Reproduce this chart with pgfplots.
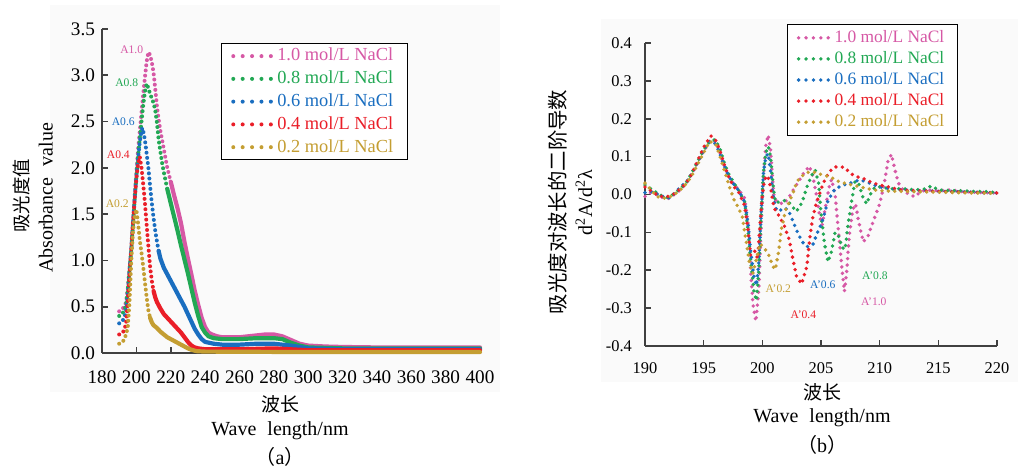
\documentclass[border=0pt]{standalone}
\usepackage{fontspec}
\setmainfont{Liberation Serif}
\newfontfamily\cjk{Noto Sans CJK SC}
\usepackage{pgfplots}
\pgfplotsset{compat=1.18}
\definecolor{cPink}{RGB}{214,88,165}
\definecolor{cGreen}{RGB}{34,168,84}
\definecolor{cBlue}{RGB}{26,110,192}
\definecolor{cRed}{RGB}{234,30,40}
\definecolor{cGold}{RGB}{196,158,50}
\pgfplotsset{
  dotL/.style={line width=2pt, line cap=round, dash pattern=on 0pt off 2.6pt},
  solL/.style={line width=2.1pt, line cap=round, line join=round, forget plot},
  dotR/.style={line width=1.9pt, line cap=round, dash pattern=on 0pt off 3.2pt},
}
\begin{document}
\begin{tikzpicture}[x=1pt,y=1pt]
\path[use as bounding box] (0,0) rectangle (509,234.5);
\fill[black!2] (25,38.5) rectangle (250,232);
\fill[black!2] (300.5,43.5) rectangle (509,225);
% ---------------- left panel ----------------
\begin{axis}[
  at={(51pt,58pt)}, anchor=south west, scale only axis, width=189pt, height=162pt,
  xmin=180, xmax=400, ymin=0, ymax=3.5,
  axis lines=left, axis line style={-, black!75, line width=0.9pt},
  tick align=inside, major tick length=3pt, tick style={black!75, line width=0.8pt},
  xtick={180,200,...,400}, ytick={0,0.5,1,1.5,2,2.5,3,3.5},
  /pgf/number format/assume math mode=true,
  ticklabel style={font=\fontsize{9.6}{11}\selectfont},
  xticklabel style={yshift=-5.5pt},
  yticklabel style={/pgf/number format/.cd, fixed, fixed zerofill, precision=1},
  clip=false,
  legend style={at={(0.8095,0.957)}, anchor=north east, draw=black, line width=0.7pt,
    fill=white, font=\fontsize{9.2}{10}\selectfont, row sep=-0.5pt, inner xsep=5pt, inner ysep=0.3pt},
  legend cell align=left,
  legend image code/.code={\draw[#1, dash pattern=on 0pt off 4.7pt] (0pt,0pt) -- (19pt,0pt);},
]
% 1.0
\addplot[cPink, dotL] coordinates {(190,0.45)(191,0.46)(192,0.48)(193,0.5)(194,0.55)(195,0.7)(196,0.9)(197,1.1)(198,1.4)(199,1.7)(200,1.95)(201,2.2)(202,2.4)(203,2.6)(204,2.8)(205,2.98)(206,3.15)(207,3.25)(208,3.22)(209,3.14)(210,3.03)(211,2.85)(212,2.66)(213,2.52)(214,2.4)(215,2.3)(216,2.2)(218,2.0)(220,1.85)};
\addlegendentry{\textcolor{cPink}{1.0 mol/L NaCl}}
\addplot[cPink, solL] coordinates {(220,1.85)(222,1.7)(224,1.56)(226,1.4)(228,1.2)(230,1.02)(232,0.85)(234,0.67)(236,0.52)(238,0.38)(240,0.28)(242,0.22)(244,0.2)(247,0.18)(250,0.17)(255,0.17)(260,0.17)(265,0.18)(270,0.19)(275,0.2)(280,0.2)(285,0.18)(290,0.14)(295,0.1)(300,0.08)(310,0.07)(320,0.065)(340,0.06)(360,0.06)(380,0.06)(400,0.06)};
% 0.8
\addplot[cGreen, dotL] coordinates {(190,0.4)(191,0.41)(192,0.43)(193,0.46)(194,0.52)(195,0.68)(196,0.9)(197,1.1)(198,1.38)(199,1.65)(200,1.9)(201,2.12)(202,2.32)(203,2.5)(204,2.68)(205,2.82)(206,2.91)(207,2.86)(208,2.8)(209,2.75)(210,2.7)(211,2.62)(212,2.48)(213,2.3)(214,2.17)(215,2.05)(216,1.95)(218,1.77)};
\addlegendentry{\textcolor{cGreen}{0.8 mol/L NaCl}}
\addplot[cGreen, solL] coordinates {(218,1.77)(220,1.62)(222,1.47)(224,1.32)(226,1.16)(228,1.01)(230,0.86)(232,0.7)(234,0.54)(236,0.4)(238,0.28)(240,0.22)(242,0.18)(245,0.16)(250,0.15)(260,0.15)(270,0.16)(280,0.16)(285,0.15)(290,0.11)(295,0.08)(300,0.06)(320,0.05)(360,0.05)(400,0.05)};
% 0.6
\addplot[cBlue, dotL] coordinates {(190,0.32)(191,0.33)(192,0.35)(193,0.38)(194,0.45)(195,0.62)(196,0.88)(197,1.12)(198,1.4)(199,1.66)(200,1.9)(201,2.1)(202,2.28)(203,2.4)(203.5,2.43)(204,2.4)(205,2.3)(206,2.15)(207,2.0)(208,1.8)(209,1.62)(210,1.46)(211,1.32)(212,1.2)(213,1.1)};
\addlegendentry{\textcolor{cBlue}{0.6 mol/L NaCl}}
\addplot[cBlue, solL] coordinates {(213,1.1)(214,1.02)(216,0.92)(218,0.85)(220,0.78)(222,0.71)(224,0.64)(226,0.57)(228,0.5)(230,0.42)(232,0.34)(234,0.26)(236,0.2)(238,0.15)(240,0.12)(245,0.1)(250,0.09)(260,0.09)(270,0.1)(280,0.1)(290,0.08)(300,0.05)(320,0.04)(400,0.04)};
% 0.4
\addplot[cRed, dotL] coordinates {(190,0.2)(191,0.21)(192,0.22)(193,0.25)(194,0.32)(195,0.55)(196,0.85)(197,1.12)(198,1.4)(199,1.65)(200,1.88)(201,2.05)(202,2.12)(203,2.0)(204,1.82)(205,1.62)(206,1.38)(207,1.15)(208,0.93)(209,0.78)(210,0.67)};
\addlegendentry{\textcolor{cRed}{0.4 mol/L NaCl}}
\addplot[cRed, solL] coordinates {(210,0.67)(211,0.6)(212,0.55)(214,0.48)(216,0.42)(218,0.38)(220,0.34)(222,0.3)(224,0.26)(226,0.22)(228,0.17)(230,0.12)(232,0.08)(234,0.06)(236,0.05)(240,0.04)(260,0.04)(280,0.05)(290,0.04)(300,0.03)(400,0.03)};
% 0.2
\addplot[cGold, dotL] coordinates {(190,0.1)(191,0.11)(192,0.12)(193,0.15)(194,0.2)(195,0.28)(196,0.55)(197,0.98)(198,1.3)(199,1.48)(200,1.55)(201,1.4)(202,1.22)(203,1.08)(204,0.93)(205,0.76)(206,0.6)(207,0.46)(208,0.38)};
\addlegendentry{\textcolor{cGold}{0.2 mol/L NaCl}}
\addplot[cGold, solL] coordinates {(208,0.38)(209,0.33)(210,0.3)(212,0.27)(214,0.23)(216,0.2)(218,0.17)(220,0.15)(222,0.13)(224,0.11)(226,0.09)(228,0.07)(230,0.05)(232,0.035)(235,0.02)(240,0.015)(300,0.01)(400,0.01)};
\begin{scope}[font=\fontsize{5.8}{6}\selectfont]
\node[cPink] at (axis cs:197.3,3.28) {A1.0};
\node[cGreen] at (axis cs:194.4,2.92) {A0.8};
\node[cBlue] at (axis cs:192.4,2.50) {A0.6};
\node[cRed] at (axis cs:189.5,2.14) {A0.4};
\node[cGold] at (axis cs:188.9,1.61) {A0.2};
\end{scope}
\end{axis}
% ---------------- right panel ----------------
\begin{axis}[
  at={(322.5pt,61.5pt)}, anchor=south west, scale only axis, width=176pt, height=151.5pt,
  xmin=190, xmax=220, ymin=-0.4, ymax=0.4,
  axis lines=left, axis line style={-, black!75, line width=0.9pt},
  tick align=inside, major tick length=3pt, tick style={black!75, line width=0.8pt},
  xtick={190,195,...,220}, ytick={-0.4,-0.3,-0.2,-0.1,0,0.1,0.2,0.3,0.4},
  /pgf/number format/assume math mode=true,
  ticklabel style={font=\fontsize{8.2}{10}\selectfont},
  xticklabel style={yshift=-5pt},
  yticklabel style={xshift=-3pt, /pgf/number format/.cd, fixed, fixed zerofill, precision=1},
  clip=false,
  legend style={at={(0.889,1.0627)}, anchor=north east, draw=black, line width=0.7pt,
    fill=white, font=\fontsize{8.7}{10}\selectfont, row sep=-1pt, inner xsep=4.5pt, inner ysep=0.8pt},
  legend cell align=left,
  legend image code/.code={\draw[#1, dash pattern=on 0pt off 3.7pt] (0pt,0pt) -- (15pt,0pt);},
]
\addplot[cPink, dotR] coordinates {(190,-0.005)(190.5,0.005)(191,0.0)(191.5,-0.008)(192,-0.01)(192.5,0.0)(193,0.012)(193.5,0.028)(194,0.055)(194.5,0.085)(195,0.115)(195.5,0.138)(195.9,0.142)(196.3,0.12)(196.7,0.08)(197.1,0.05)(197.5,0.03)(198,0.012)(198.5,-0.01)(198.8,-0.08)(199.0,-0.2)(199.2,-0.29)(199.45,-0.335)(199.7,-0.25)(199.9,-0.08)(200.1,0.05)(200.3,0.13)(200.5,0.157)(200.7,0.12)(200.85,0.05)(201.0,-0.01)(201.3,-0.02)(201.8,-0.025)(202.2,-0.01)(202.6,0.01)(203.0,0.03)(203.5,0.055)(204.0,0.075)(204.3,0.05)(204.6,0.0)(204.9,-0.06)(205.1,-0.08)(205.4,-0.03)(205.7,0.02)(205.9,0.04)(206.2,0.0)(206.5,-0.1)(206.8,-0.2)(207.0,-0.256)(207.2,-0.2)(207.4,-0.11)(207.7,-0.04)(207.95,-0.025)(208.2,-0.07)(208.6,-0.125)(209.0,-0.11)(209.5,-0.067)(210.0,-0.025)(210.4,0.03)(210.7,0.087)(211.0,0.106)(211.3,0.065)(211.6,0.03)(212.0,0.012)(212.5,0.0)(213.0,-0.006)(213.5,0.008)(214,0.012)(215,0.01)(216,0.012)(217,0.008)(218,0.006)(219,0.005)(220,0.004)};
\addlegendentry{\textcolor{cPink}{1.0 mol/L NaCl}}
\addplot[cGreen, dotR] coordinates {(190,0.025)(190.5,0.015)(191,0.005)(191.5,-0.005)(192,-0.008)(192.5,0.003)(193,0.015)(193.5,0.03)(194,0.058)(194.5,0.088)(195,0.118)(195.5,0.14)(196,0.145)(196.4,0.12)(196.8,0.08)(197.2,0.05)(197.6,0.03)(198,0.01)(198.5,-0.02)(198.8,-0.1)(199.0,-0.17)(199.3,-0.26)(199.5,-0.28)(199.7,-0.2)(199.9,-0.05)(200.1,0.06)(200.3,0.11)(200.5,0.127)(200.7,0.1)(200.9,0.03)(201.1,-0.02)(201.5,-0.02)(202.0,-0.015)(202.4,-0.025)(202.9,-0.045)(203.4,-0.02)(203.8,0.02)(204.2,0.05)(204.5,0.065)(204.8,0.03)(205.0,-0.05)(205.3,-0.13)(205.6,-0.178)(205.9,-0.15)(206.2,-0.1)(206.5,-0.11)(206.8,-0.14)(207.05,-0.145)(207.3,-0.08)(207.6,-0.02)(207.9,0.035)(208.2,0.03)(208.6,-0.01)(208.9,-0.025)(209.2,0.0)(209.6,0.02)(210,0.02)(211,0.015)(212,0.015)(213,0.012)(214,0.015)(214.4,0.023)(215,0.012)(216,0.01)(217,0.01)(218,0.008)(219,0.008)(220,0.005)};
\addlegendentry{\textcolor{cGreen}{0.8 mol/L NaCl}}
\addplot[cBlue, dotR] coordinates {(190,0.005)(190.5,0.008)(191,0.002)(191.5,-0.005)(192,-0.01)(192.5,0.002)(193,0.02)(193.5,0.032)(194,0.055)(194.5,0.085)(195,0.12)(195.5,0.14)(195.9,0.138)(196.3,0.115)(196.7,0.08)(197.1,0.05)(197.5,0.03)(198,0.01)(198.5,-0.02)(198.8,-0.08)(199.0,-0.15)(199.3,-0.22)(199.5,-0.24)(199.7,-0.18)(199.9,-0.05)(200.1,0.06)(200.3,0.1)(200.5,0.108)(200.7,0.06)(200.9,0.0)(201.1,-0.035)(201.4,-0.045)(201.8,-0.035)(202.2,-0.04)(202.6,-0.07)(203.0,-0.1)(203.4,-0.125)(203.8,-0.138)(204.3,-0.133)(204.7,-0.1)(205.06,-0.076)(205.3,-0.05)(205.6,-0.015)(206.2,0.015)(206.9,0.025)(207.5,0.03)(208.2,0.038)(208.8,0.035)(209.5,0.025)(210,0.02)(211,0.015)(212,0.012)(213,0.01)(214,0.01)(215,0.008)(216,0.008)(217,0.007)(218,0.006)(219,0.005)(220,0.004)};
\addlegendentry{\textcolor{cBlue}{0.6 mol/L NaCl}}
\addplot[cRed, dotR] coordinates {(190,0.02)(190.5,0.01)(191,0.0)(191.5,-0.006)(192,-0.005)(192.5,0.002)(193,0.015)(193.5,0.03)(194,0.055)(194.5,0.09)(195,0.125)(195.6,0.155)(196,0.145)(196.4,0.115)(196.8,0.075)(197.2,0.04)(197.6,0.02)(198,0.005)(198.5,-0.03)(198.8,-0.1)(199.0,-0.16)(199.2,-0.15)(199.4,-0.15)(199.6,-0.17)(199.8,-0.08)(200.0,0.0)(200.2,0.04)(200.45,0.05)(200.7,0.02)(200.9,-0.02)(201.1,-0.042)(201.5,-0.06)(201.9,-0.085)(202.3,-0.12)(202.6,-0.17)(202.9,-0.215)(203.35,-0.236)(203.8,-0.19)(204.06,-0.11)(204.3,-0.06)(204.6,-0.023)(205.2,0.03)(205.7,0.06)(206.2,0.073)(207.0,0.072)(207.5,0.056)(208.0,0.047)(208.5,0.044)(209.0,0.036)(209.5,0.03)(210.0,0.025)(210.9,0.019)(211.7,0.012)(213,0.01)(215,0.008)(217,0.006)(220,0.004)};
\addlegendentry{\textcolor{cRed}{0.4 mol/L NaCl}}
\addplot[cGold, dotR] coordinates {(190,0.03)(190.5,0.012)(191,-0.005)(191.5,-0.01)(192,-0.008)(192.5,0.0)(193,0.012)(193.5,0.028)(194,0.05)(194.5,0.08)(195,0.11)(195.5,0.14)(196,0.135)(196.4,0.1)(196.8,0.06)(197.2,0.02)(197.6,-0.015)(198.0,-0.037)(198.3,-0.06)(198.6,-0.12)(198.9,-0.18)(199.2,-0.208)(199.5,-0.17)(199.8,-0.13)(200.1,-0.139)(200.5,-0.156)(200.9,-0.19)(201.1,-0.198)(201.4,-0.15)(201.6,-0.095)(202.0,-0.04)(202.6,0.003)(202.9,0.03)(203.2,0.045)(203.8,0.058)(204.3,0.06)(204.8,0.055)(205.8,0.046)(206.6,0.033)(207.8,0.024)(209,0.015)(210,0.01)(212,0.008)(215,0.006)(218,0.004)(220,0.003)};
\addlegendentry{\textcolor{cGold}{0.2 mol/L NaCl}}
\begin{scope}[font=\fontsize{5.8}{6}\selectfont]
\node[cGold] at (axis cs:201.36,-0.248) {A'0.2};
\node[cBlue] at (axis cs:205.15,-0.237) {A'0.6};
\node[cRed] at (axis cs:203.5,-0.318) {A'0.4};
\node[cGreen] at (axis cs:209.6,-0.215) {A'0.8};
\node[cPink] at (axis cs:209.5,-0.283) {A'1.0};
\end{scope}
\end{axis}
% ---------------- labels ----------------
\node[font=\fontsize{9.5}{10}\selectfont\cjk] at (140,32.5) {波长};
\node[font=\fontsize{10}{11}\selectfont] at (140,19) {Wave\hspace{0.55em}length/nm};
\node[font=\fontsize{10}{11}\selectfont] at (140,6) {{\cjk （}a{\cjk ）}};
\node[rotate=90, font=\fontsize{9.2}{10}\selectfont\cjk] at (10.8,136.5) {吸光度值};
\node[rotate=90, font=\fontsize{10}{11}\selectfont] at (22.9,135.5) {Absorbance\hspace{0.55em}value};
\node[font=\fontsize{9.5}{10}\selectfont\cjk] at (411,38.5) {波长};
\node[font=\fontsize{10}{11}\selectfont] at (411,25.5) {Wave\hspace{0.55em}length/nm};
\node[font=\fontsize{10}{11}\selectfont] at (411,12) {{\cjk （}b{\cjk ）}};
\node[rotate=90, font=\fontsize{10.2}{11}\selectfont\cjk] at (279,133.5) {吸光度对波长的二阶导数};
\node[rotate=90, font=\fontsize{10}{11}\selectfont] at (292,133) {d\textsuperscript{2}A/d\textsuperscript{2}λ};
\end{tikzpicture}
\end{document}
